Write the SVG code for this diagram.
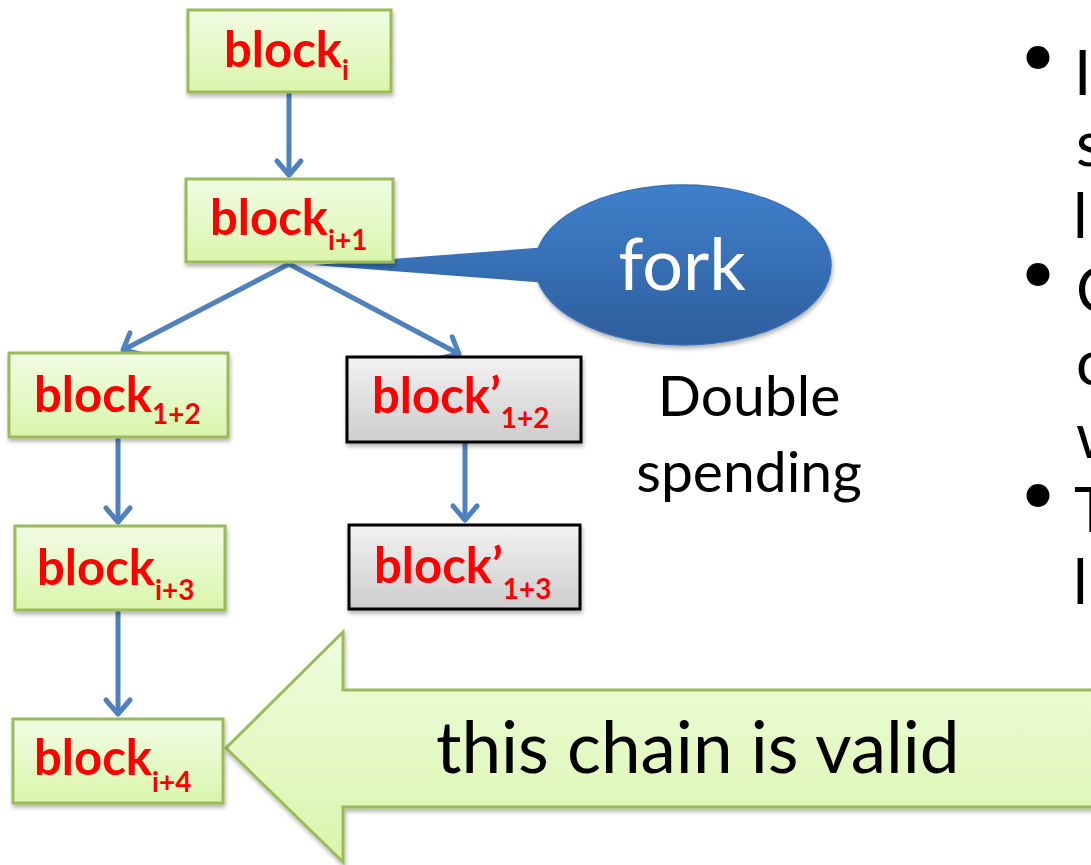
<svg xmlns="http://www.w3.org/2000/svg" width="1091" height="865" viewBox="0 0 1091 865">
  <style>
    .green { fill: url(#gGreen); stroke: #9bbb59; stroke-width: 3; filter: url(#shadow); }
    .grey { fill: url(#gGrey); stroke: #000; stroke-width: 3; filter: url(#shadow); }
    .bt { font-family: Lato, "Liberation Sans", sans-serif; font-weight: bold; font-size: 49px; fill: #ff0000; }
    .sub { font-size: 28px; }
    .conn { stroke: #4f81bd; stroke-width: 5; fill: none; marker-end: url(#open); }
    .lbl { font-family: Lato, "Liberation Sans", sans-serif; fill: #000; }
  </style>
  <defs>
    <linearGradient id="gGreen" x1="0" y1="0" x2="0" y2="1">
      <stop offset="0" stop-color="#f1fce4"/>
      <stop offset="1" stop-color="#d9f6ab"/>
    </linearGradient>
    <linearGradient id="gGrey" x1="0" y1="0" x2="0" y2="1">
      <stop offset="0" stop-color="#f2f2f2"/>
      <stop offset="1" stop-color="#cdcdcd"/>
    </linearGradient>
    <linearGradient id="gArrow" x1="0" y1="632" x2="0" y2="862" gradientUnits="userSpaceOnUse">
      <stop offset="0" stop-color="#f0fce0"/>
      <stop offset="1" stop-color="#d9f6ab"/>
    </linearGradient>
    <linearGradient id="gBlue" x1="0" y1="185" x2="0" y2="345" gradientUnits="userSpaceOnUse">
      <stop offset="0" stop-color="#3f80cb"/>
      <stop offset="1" stop-color="#2e5e9d"/>
    </linearGradient>
    <filter id="shadow" x="-10%" y="-10%" width="130%" height="140%">
      <feDropShadow dx="1" dy="3" stdDeviation="2" flood-color="#000" flood-opacity="0.3"/>
    </filter>
    <marker id="open" markerUnits="userSpaceOnUse" markerWidth="40" markerHeight="40" viewBox="-20 -20 40 40" refX="0" refY="0" orient="auto">
      <path d="M -14 -12 L 0 0 L -14 12" fill="none" stroke="#4f81bd" stroke-width="5" stroke-linecap="round" stroke-linejoin="round"/>
    </marker>
  </defs>

  <!-- big "valid chain" arrow -->
  <g id="valid-arrow">
    <polygon points="226,748 343,632 343,690 1100,690 1100,807 343,807 343,862" fill="url(#gArrow)" stroke="#9bbb59" stroke-width="3" filter="url(#shadow)"/>
    <text class="lbl" x="436" y="773" font-size="71">this chain is valid</text>
  </g>

  <!-- connectors -->
  <g id="connectors">
    <line class="conn" x1="289" y1="93" x2="289" y2="175"/>
    <line class="conn" x1="289" y1="264" x2="123" y2="350"/>
    <line class="conn" x1="289" y1="264" x2="459" y2="354"/>
    <line class="conn" x1="118" y1="438" x2="118" y2="522"/>
    <line class="conn" x1="118" y1="611" x2="118" y2="714"/>
    <line class="conn" x1="465" y1="443" x2="465" y2="520"/>
  </g>

  <!-- fork callout -->
  <g id="fork">
    <ellipse cx="683" cy="265" rx="148" ry="80" fill="url(#gBlue)" stroke="#3a70b4" stroke-width="1.5" filter="url(#shadow)"/>
    <polygon points="313,265 548,247 548,283" fill="url(#gBlue)"/>
    <text class="lbl" x="682" y="290" font-size="72" style="fill:#fff" text-anchor="middle">fork</text>
  </g>

  <g id="double-spending">
    <text class="lbl" x="749" y="416" font-size="57" text-anchor="middle">Double</text>
    <text class="lbl" x="749" y="492" font-size="57" text-anchor="middle">spending</text>
  </g>

  <!-- blocks -->
  <g id="block-i">
    <rect class="green" x="188" y="10" width="203" height="82"/>
    <text class="bt" x="224" y="67">block<tspan class="sub" dy="13">i</tspan></text>
  </g>
  <g id="block-i1">
    <rect class="green" x="186" y="179" width="207" height="83"/>
    <text class="bt" x="210" y="235">block<tspan class="sub" dy="15">i+1</tspan></text>
  </g>
  <g id="block-12">
    <rect class="green" x="9" y="353" width="219" height="84"/>
    <text class="bt" x="34" y="412">block<tspan class="sub" dy="12">1+2</tspan></text>
  </g>
  <g id="block-p12">
    <rect class="grey" x="347" y="357" width="234" height="85"/>
    <text class="bt" x="372" y="413">block’<tspan class="sub" dy="15">1+2</tspan></text>
  </g>
  <g id="block-p13">
    <rect class="grey" x="349" y="525" width="231" height="84"/>
    <text class="bt" x="374" y="583">block’<tspan class="sub" dy="16">1+3</tspan></text>
  </g>
  <g id="block-i3">
    <rect class="green" x="15" y="526" width="210" height="84"/>
    <text class="bt" x="37" y="585">block<tspan class="sub" dy="15">i+3</tspan></text>
  </g>
  <g id="block-i4">
    <rect class="green" x="13" y="719" width="210" height="84"/>
    <text class="bt" x="34" y="775">block<tspan class="sub" dy="17">i+4</tspan></text>
  </g>

  <!-- bullet list running off the right edge -->
  <g id="bullets" class="lbl" font-size="62">
    <text x="1020" y="76">•</text>
    <text x="1074" y="95">I</text>
    <text x="1076" y="166">s</text>
    <text x="1073" y="238">l</text>
    <text x="1020" y="293">•</text>
    <text x="1076" y="312">C</text>
    <text x="1076" y="385">c</text>
    <text x="1076" y="458">w</text>
    <text x="1020" y="514">•</text>
    <text x="1074" y="532">T</text>
    <text x="1073" y="604">l</text>
  </g>
</svg>
